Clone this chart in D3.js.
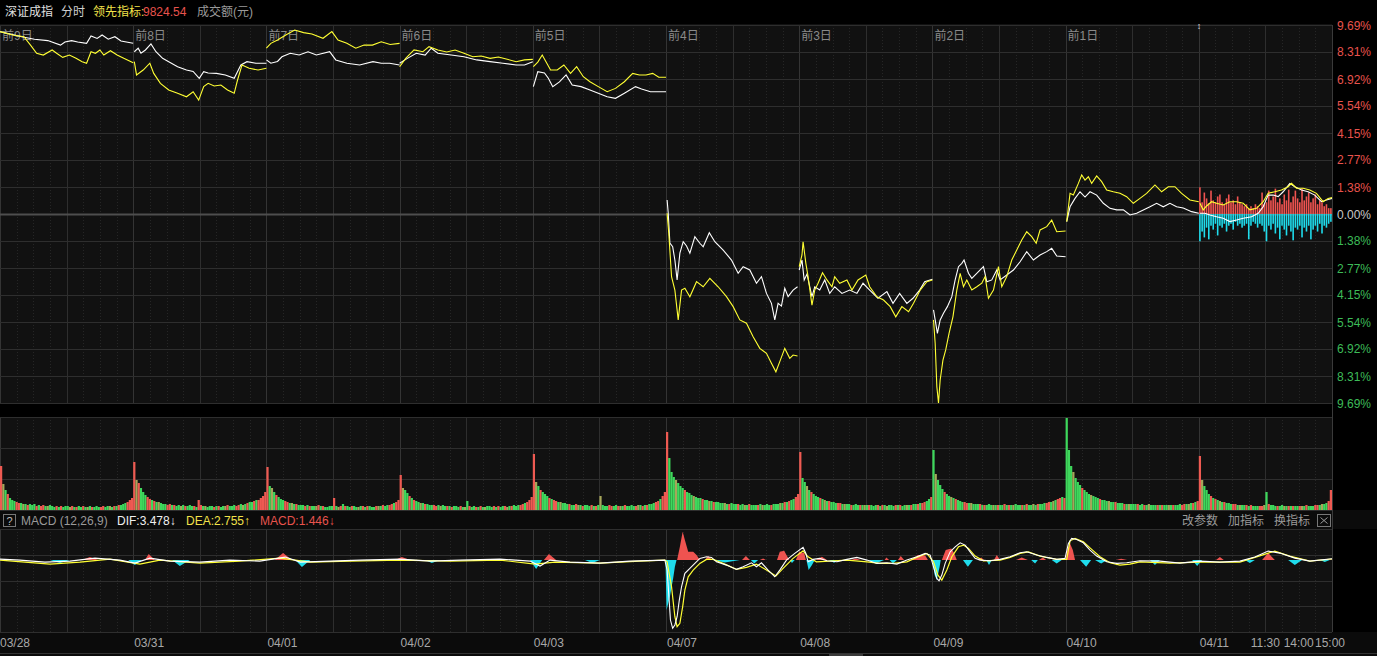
<!DOCTYPE html>
<html><head><meta charset="utf-8">
<script src="https://cdn.jsdelivr.net/npm/d3@7"></script>
<style>
html,body{margin:0;padding:0;background:#000;overflow:hidden;}
svg{display:block;}
text{font-family:"Liberation Sans",Arial,"Noto Sans CJK SC",sans-serif;}
</style></head><body>
<svg id="c" width="1377" height="656"></svg>
<script>
// ---------------- DATA ----------------
const dayLabels = ["03/28","03/31","04/01","04/02","04/03","04/07","04/08","04/09","04/10","04/11"];
const dayTags = ["前9日","前8日","前7日","前6日","前5日","前4日","前3日","前2日","前1日"];
const lastDayTimes = [["11:30",120],["14:00",180],["15:00",240]];
const pctTicks = [9.69,8.31,6.92,5.54,4.15,2.77,1.38,0,-1.38,-2.77,-4.15,-5.54,-6.92,-8.31,-9.69];

// 深证成指 (white), [minute of day, % change]
const indexLine = [
 [[0,9.35],[39,9.09],[62,8.96],[86,8.89],[109,8.66],[117,8.82],[129,8.89],[140,8.82],[156,8.75],[164,9.13],[175,9.0],[184,9.18],[195,8.96],[207,9.09],[218,8.87],[240,8.75]],
 [[2,8.32],[9,8.50],[14,8.24],[22,8.41],[32,8.72],[41,8.32],[53,7.98],[64,7.81],[80,7.55],[96,7.38],[108,7.31],[119,6.96],[127,7.30],[135,7.23],[150,7.21],[166,7.13],[182,6.96],[194,7.64],[205,7.81],[221,7.73],[240,7.73]],
 [[0,7.90],[8,7.73],[20,7.82],[28,8.06],[43,8.24],[59,8.15],[75,8.32],[90,8.15],[114,8.32],[125,7.90],[145,7.73],[168,7.64],[192,7.81],[207,7.73],[222,7.73],[240,7.64]],
 [[0,7.73],[14,7.98],[30,8.24],[46,8.15],[57,8.50],[69,8.24],[93,8.15],[116,8.06],[139,7.90],[163,7.81],[186,7.73],[210,7.64],[225,7.64],[240,7.81]],
 [[1,6.53],[9,7.30],[21,7.23],[28,6.96],[36,6.53],[48,6.77],[60,7.13],[71,6.61],[87,6.53],[103,6.36],[118,6.19],[134,6.01],[149,5.93],[165,6.19],[185,6.53],[196,6.41],[212,6.27],[240,6.27]],
 [[2,0.72],[4,0.05],[7,-1.49],[12,-1.68],[16,-2.36],[20,-3.38],[25,-2.01],[31,-1.42],[37,-1.64],[43,-2.01],[52,-1.16],[61,-1.50],[67,-1.68],[78,-0.96],[88,-1.42],[103,-1.85],[118,-2.36],[130,-3.04],[139,-2.70],[151,-2.87],[163,-3.55],[172,-3.21],[181,-4.07],[190,-4.58],[196,-5.43],[202,-4.58],[208,-4.72],[214,-3.81],[220,-4.24],[229,-3.90],[237,-3.73]],
 [[0,-2.87],[5,-2.36],[9,-3.38],[14,-3.08],[23,-4.24],[28,-3.73],[37,-3.90],[46,-3.38],[55,-4.07],[64,-3.73],[77,-4.07],[91,-3.90],[104,-4.07],[115,-3.55],[127,-3.90],[142,-4.32],[158,-3.98],[169,-4.58],[181,-4.07],[194,-4.58],[205,-4.32],[217,-3.90],[226,-3.47],[240,-3.35]],
 [[2,-4.92],[5,-5.43],[9,-6.12],[14,-5.43],[20,-5.09],[27,-4.75],[35,-4.24],[41,-3.38],[47,-2.70],[53,-2.53],[57,-2.36],[65,-3.04],[71,-3.30],[83,-2.96],[92,-2.70],[98,-3.47],[107,-3.38],[116,-2.87],[122,-3.38],[134,-3.13],[146,-2.87],[158,-2.45],[170,-1.93],[182,-2.36],[194,-2.10],[206,-1.93],[215,-1.76],[224,-2.15],[240,-2.19]],
 [[2,-0.39],[8,0.37],[17,0.80],[26,1.14],[35,0.87],[44,1.14],[56,0.97],[68,0.55],[80,0.29],[92,0.21],[104,0.21],[116,-0.05],[128,0.04],[140,0.21],[152,0.37],[164,0.55],[176,0.37],[188,0.55],[200,0.37],[212,0.31],[227,0.12],[240,0.04]],
 [[2,0.04],[11,0.04],[20,-0.05],[32,-0.14],[44,-0.22],[56,-0.39],[68,-0.31],[80,-0.22],[95,-0.14],[107,0.04],[116,0.37],[125,0.97],[134,0.97],[143,0.89],[152,1.14],[164,1.57],[173,1.40],[185,1.23],[197,1.14],[209,0.97],[221,0.63],[230,0.72],[240,0.80]]
];
// 领先指标 (yellow)
const leadLine = [
 [[0,9.35],[23,9.18],[43,9.09],[55,8.66],[66,8.24],[78,8.15],[94,8.41],[102,8.24],[113,8.03],[125,8.15],[137,7.98],[148,7.81],[156,7.73],[164,8.32],[172,8.24],[180,8.41],[187,8.15],[199,8.37],[211,8.15],[223,7.98],[240,7.76]],
 [[2,7.81],[6,7.13],[18,7.38],[30,7.73],[37,7.21],[49,6.70],[64,6.36],[80,6.19],[96,6.01],[108,6.27],[118,5.84],[127,6.53],[135,6.70],[146,6.56],[158,6.61],[170,6.36],[182,6.19],[188,6.87],[196,7.64],[209,7.47],[225,7.38],[240,7.47]],
 [[0,8.50],[8,8.75],[20,8.92],[35,9.18],[51,9.43],[67,9.30],[82,9.23],[102,9.01],[118,9.35],[129,8.92],[145,8.75],[161,8.50],[176,8.66],[191,8.66],[207,8.83],[223,8.69],[240,8.75]],
 [[0,7.55],[11,7.98],[26,8.41],[42,8.32],[53,8.58],[69,8.41],[85,8.31],[100,8.41],[116,8.24],[132,8.06],[147,8.10],[163,7.98],[178,8.05],[194,7.93],[210,7.81],[225,7.90],[240,7.93]],
 [[1,7.55],[9,7.79],[17,8.15],[24,7.79],[32,7.38],[44,7.38],[56,7.64],[68,7.21],[79,7.55],[91,7.04],[103,6.78],[118,6.53],[134,6.27],[149,6.44],[165,6.78],[180,7.21],[192,7.13],[204,7.13],[216,7.21],[227,7.01],[240,7.01]],
 [[2,0.04],[5,-0.99],[10,-3.21],[16,-3.90],[22,-5.43],[28,-3.90],[34,-3.81],[43,-4.24],[55,-3.47],[67,-3.73],[79,-3.30],[94,-3.73],[109,-4.24],[121,-4.75],[133,-5.43],[145,-5.60],[157,-6.29],[169,-6.89],[181,-7.14],[190,-7.65],[198,-8.09],[205,-7.57],[214,-6.89],[223,-7.40],[229,-7.23],[237,-7.28]],
 [[0,-2.70],[5,-2.10],[7,-1.42],[12,-2.53],[16,-3.21],[23,-4.67],[28,-3.90],[34,-3.55],[42,-3.01],[50,-3.38],[59,-3.73],[64,-3.21],[73,-3.55],[86,-3.38],[95,-3.90],[106,-3.38],[120,-3.13],[127,-3.73],[140,-4.24],[152,-4.41],[164,-4.75],[174,-5.27],[185,-4.75],[197,-5.01],[206,-4.58],[218,-3.90],[230,-3.47],[240,-3.38]],
 [[2,-5.43],[5,-6.63],[8,-8.85],[11,-9.69],[14,-8.51],[19,-7.49],[24,-6.97],[30,-6.12],[37,-5.27],[44,-3.90],[50,-3.04],[56,-3.73],[62,-3.38],[71,-3.90],[80,-3.73],[89,-3.55],[95,-3.21],[101,-4.32],[110,-3.90],[119,-2.70],[125,-3.73],[134,-3.21],[143,-2.36],[152,-1.85],[161,-1.33],[170,-0.91],[179,-1.16],[187,-1.50],[194,-0.82],[206,-0.65],[215,-0.31],[224,-0.91],[240,-0.87]],
 [[2,-0.39],[8,1.06],[14,0.97],[23,1.57],[29,2.00],[35,1.74],[41,1.91],[47,1.57],[56,1.95],[65,1.66],[74,1.23],[86,1.14],[98,1.06],[110,0.89],[122,0.55],[134,0.80],[146,1.06],[161,1.49],[173,1.14],[185,1.40],[197,1.40],[209,1.06],[224,0.72],[240,0.63]],
 [[2,0.55],[8,0.21],[14,0.41],[23,0.63],[32,0.55],[44,0.46],[56,0.63],[68,0.63],[80,0.55],[92,0.21],[104,0.29],[116,0.63],[125,1.06],[137,1.14],[149,1.23],[161,1.40],[167,1.57],[176,1.32],[188,1.32],[200,1.23],[212,1.06],[224,0.63],[233,0.80],[240,0.84]]
];
// current day strength bars (every 4 minutes)
const buyBars = [1.37,0.6,1.1,0.8,0.55,1.2,0.7,0.6,0.9,1.0,0.6,0.5,0.8,1.0,0.6,0.7,0.5,0.9,0.6,0.5,0.4,0.5,0.3,0.4,0.3,0.5,0.4,0.3,1.1,0.5,0.6,1.2,0.7,0.9,1.3,0.6,0.8,0.5,1.0,0.7,1.25,0.6,0.9,1.2,0.8,0.6,1.3,0.7,0.9,1.1,0.6,0.8,1.0,0.5,0.7,0.6,0.4,0.5,0.3,0.3];
const sellBars = [-1.4,-0.9,-1.2,-0.7,-1.3,-0.6,-0.8,-0.5,-1.1,-0.6,-0.7,-0.5,-0.9,-0.6,-0.5,-0.8,-0.4,-0.6,-0.5,-0.7,-0.6,-0.5,-1.3,-0.6,-0.4,-0.5,-0.7,-0.5,-0.6,-0.9,-1.4,-0.6,-0.8,-0.5,-1.0,-0.7,-1.3,-0.6,-0.8,-1.1,-0.6,-0.9,-1.35,-0.7,-0.8,-0.6,-1.2,-0.7,-0.9,-0.6,-1.3,-0.8,-0.6,-0.9,-0.5,-1.0,-0.6,-0.7,-0.5,-0.4];

// 成交额, 60 bars per day (4 minutes each)
const volume = [
 [44,26,20,16,12,10,9,8,7,7,6,6,5,6,5,6,4,5,4,5,4,4,5,4,3,4,3,4,3,4,4,3,4,3,3,4,3,4,3,3,4,3,3,4,3,3,4,3,4,4,3,4,4,5,5,6,7,8,10,12],
 [48,30,27,22,18,15,13,11,10,9,8,8,7,6,6,5,6,5,5,4,5,4,5,4,4,5,4,4,3,10,5,4,4,3,4,4,3,4,4,3,4,4,5,4,4,5,4,5,6,5,6,7,8,8,9,10,10,12,14,18],
 [43,24,22,18,15,13,11,10,9,8,7,7,6,6,5,5,5,4,5,4,4,4,4,5,4,4,3,3,4,4,12,4,3,4,6,4,4,3,4,4,3,3,4,4,3,4,4,3,3,4,4,4,5,4,5,5,6,7,8,10],
 [35,22,20,17,14,12,10,9,8,7,7,6,6,5,5,5,4,5,4,5,4,4,4,3,4,4,3,4,3,3,9,4,3,4,3,3,4,3,3,4,4,3,4,3,4,3,4,4,3,4,4,5,4,5,5,6,7,8,10,13],
 [56,28,24,20,18,16,14,12,11,10,9,8,8,7,7,6,6,5,5,6,5,5,4,5,5,4,5,4,4,5,14,5,4,4,5,4,4,5,4,4,4,5,4,4,5,4,4,5,5,4,5,5,6,6,7,8,9,11,14,18],
 [78,52,38,33,30,27,24,22,20,18,17,15,14,13,12,12,11,10,10,9,9,8,8,8,7,7,7,6,6,7,6,6,6,5,6,5,5,6,5,5,5,5,6,5,5,6,5,5,6,6,6,7,7,8,8,9,10,11,13,16],
 [58,32,28,24,20,18,16,14,13,12,11,10,9,9,8,8,7,7,7,6,6,6,6,5,5,6,5,5,5,5,5,5,5,4,5,5,4,5,5,4,5,5,4,5,5,5,4,5,5,5,5,6,6,6,7,7,8,9,11,13],
 [60,36,30,25,21,18,16,14,13,12,11,10,9,8,8,7,7,7,6,6,6,6,5,5,5,6,5,5,5,5,5,5,6,5,5,5,5,6,5,5,5,5,6,5,5,6,5,6,6,6,7,7,8,8,9,10,11,12,13,12],
 [92,60,44,38,32,28,25,22,20,18,16,15,14,13,12,11,10,10,9,9,8,8,8,7,7,7,6,6,6,6,6,6,6,5,6,5,5,6,5,5,5,5,5,5,5,5,5,5,5,5,5,6,5,6,6,6,7,7,8,9],
 [54,30,24,20,16,14,12,11,10,9,8,8,7,7,6,6,6,5,5,5,5,5,4,5,4,4,4,4,4,5,18,6,5,5,4,4,4,5,4,4,4,4,4,4,4,4,4,4,5,4,4,4,5,5,5,6,6,7,9,20]
];
const volColor = [
 "rogrgggrrgogrgggrgrrgogggrgrgggorgrggrgogrgggrrggogrgrgggrrr",
 "rorgggrrgrgogggrrgrggogrgggrgrrgogggrgrggorgggrrgogrggrgrrrr",
 "rgogrgggrrgogrgggrgrggorgrggggrgorgrggrggogrgrgggrogrggrrgrr",
 "roggrgrggogrgggrrgoggrgrgggrgogrggrgrgogggrgrggrogrgggrrgrrr",
 "rogrgggrgrrgogggrggrogrgggrgrgogggrrggrogrggggrogrgrgggrrgrr",
 "rgggogggrgggogggrggogrggggogrgggrggogrgggrgogggrgggogrgrggrr",
 "rggogrgggrgogrgggrrgoggrgggrgogrgggrgrgogggrgrggogrggrgrrggr",
 "gogggrggogrgggrrgogggrgrgggogrggrgrgogggrgrggogrgggrrgogrrgr",
 "gggogggrgggogggrgggoggrgggrgogggrggrgogggrgrggogrgggrrgogrgr",
 "rogggrgrgogrgggrrgoggrgrgggrrogrgggrggogrgrggrogrgggrrgoggrr"
];

// MACD (12,26,9): [global minute, value]
const difLine = [[0,2.6],[36,0],[81,-5.1],[126,-2.6],[171,5.1],[216,0],[243,-7.7],[270,5.1],[306,-2.6],[360,-5.1],[414,0],[468,-2.6],[514,7.7],[541,-5.1],[595,-2.6],[649,0],[721,2.6],[775,-2.6],[829,0],[901,2.6],[955,-2.6],[973,-15.4],[991,0],[1027,-5.1],[1081,-7.7],[1135,-2.6],[1198,0],[1202,-25.7],[1206,-110.5],[1208,-154.2],[1212,-175.5],[1216,-167],[1220,-145.7],[1224,-102.8],[1228,-68.6],[1234,-34.2],[1243,-21.3],[1252,-8.5],[1261,4.4],[1273,8.5],[1282,6.9],[1291,-4.4],[1309,-12.9],[1327,-23.9],[1339,-17.2],[1354,-6.9],[1363,-17.2],[1372,-6.9],[1384,-25.7],[1396,-42.9],[1405,-25.7],[1417,0],[1432,17.2],[1447,32.6],[1452,17.2],[1456,-4.4],[1465,1.8],[1477,4.4],[1490,-1.8],[1508,-4.4],[1526,1.8],[1544,6.9],[1562,0],[1580,-8.5],[1598,-6.9],[1616,-10.3],[1634,0],[1652,8.5],[1667,17.2],[1676,12.9],[1682,-17.2],[1688,-47],[1692,-53.2],[1697,-38.6],[1703,-8.5],[1712,21.3],[1721,34.2],[1730,44.5],[1739,38.6],[1748,21.3],[1757,4.4],[1766,0],[1784,-1.8],[1802,1.8],[1820,8.5],[1838,18.8],[1850,21.3],[1868,12.9],[1886,6.9],[1904,1.8],[1919,4.4],[1925,42.9],[1931,55.8],[1940,53.2],[1952,44.5],[1964,25.7],[1976,10.3],[1994,-4.4],[2012,-8.5],[2030,-6.9],[2054,-1.8],[2090,-2.6],[2126,-7.7],[2162,-2.6],[2198,-5.1],[2234,-2.6],[2261,7.7],[2285,23.1],[2306,18],[2333,5.1],[2360,-2.6],[2400,3.478]];
const deaLine = [[0,0],[45,-5.1],[90,-10.3],[144,-5.1],[198,2.6],[252,-10.3],[288,0],[360,-7.7],[432,-2.6],[505,5.1],[559,-5.1],[631,-2.6],[721,0],[811,-2.6],[901,0],[964,-10.3],[1000,-5.1],[1081,-7.7],[1153,-2.6],[1198,0],[1202,-4.4],[1210,-68.6],[1216,-145.7],[1220,-171.4],[1225,-162.7],[1230,-120],[1234,-77.1],[1240,-42.9],[1249,-25.7],[1261,-8.5],[1273,1.8],[1285,1.8],[1303,-8.5],[1327,-23.9],[1345,-18.8],[1363,-10.3],[1381,-25.7],[1398,-41.1],[1411,-21.3],[1429,4.4],[1447,23.9],[1456,8.5],[1471,-4.4],[1526,0],[1562,-4.4],[1586,-8.5],[1610,-8.5],[1634,-4.4],[1652,6.9],[1670,17.2],[1682,-4.4],[1690,-38.6],[1697,-51.4],[1706,-25.7],[1715,8.5],[1727,34.2],[1736,38.6],[1745,30.1],[1757,10.3],[1772,-1.8],[1802,0],[1820,6.9],[1838,17.2],[1853,21.3],[1874,10.3],[1904,1.8],[1922,1.8],[1928,49.6],[1937,55.8],[1952,47],[1967,27.5],[1982,8.5],[2000,-6.9],[2018,-12.9],[2036,-10.3],[2054,-4.4],[2108,-7.7],[2162,-5.1],[2234,-5.1],[2274,12.9],[2297,23.1],[2324,10.3],[2360,-2.6],[2400,2.755]];
const macdBars = [[90,0],[108,-7.7],[126,0],[148,0],[162,7.7],[177,0],[231,0],[243,-12.9],[256,0],[261,0],[268,15.4],[279,0],[310,0],[324,-15.4],[342,0],[495,0],[510,18],[526,0],[532,0],[544,-18],[559,0],[712,0],[724,7.7],[739,0],[766,0],[778,-7.7],[793,0],[955,0],[966,-23.1],[977,0],[980,0],[989,15.4],[1002,0],[1054,0],[1067,-7.7],[1081,0],
 [1199,0],[1201,-128.5],[1207,-94.3],[1213,-46.3],[1216,-17.2],[1219,0],[1220,0],[1225,34.2],[1230,72.7],[1234,51.4],[1240,21.3],[1249,21.3],[1255,12.9],[1261,0],
 [1270,0],[1276,10.3],[1283,0],[1286,0],[1306,-6.4],[1333,0],[1337,0],[1344,10.3],[1351,0],[1353,0],[1359,-8.5],[1366,0],[1369,0],[1375,4.4],[1380,0],
 [1400,0],[1405,21.3],[1413,23.9],[1418,10.3],[1422,0],[1423,0],[1427,-7.7],[1432,0],[1434,0],[1440,21.3],[1449,18],[1452,0],[1453,0],[1457,-25.7],[1463,-12.9],[1468,0],[1470,0],[1481,8.5],[1490,0],[1494,0],[1503,-6.9],[1510,0],[1533,0],[1542,4.4],[1551,0],[1564,0],[1578,-8.5],[1593,0],[1594,0],[1597,6.9],[1602,0],[1603,0],[1609,-8.5],[1616,0],[1618,0],[1623,10.3],[1629,0],[1641,0],[1654,12.9],[1667,11.6],[1672,0],
 [1680,0],[1684,-38.6],[1688,-51.4],[1693,-17.2],[1695,0],[1697,0],[1704,25.7],[1714,30.1],[1719,18],[1724,0],[1735,0],[1744,-17.2],[1753,0],[1762,0],[1768,6.9],[1773,0],[1777,0],[1782,-12.9],[1787,0],[1791,0],[1796,12.9],[1802,0],[1831,0],[1841,6.9],[1852,0],[1858,0],[1865,-8.5],[1870,0],[1872,0],[1879,6.9],[1885,0],[1895,0],[1904,-8.5],[1913,0],
 [1920,0],[1923,25.7],[1928,42.9],[1933,25.7],[1937,0],[1946,0],[1957,-17.2],[1966,0],[1973,0],[1984,-8.5],[1995,0],[2011,0],[2020,3.3],[2031,0],[2072,0],[2081,-12.9],[2090,0],[2148,0],[2157,-15.4],[2166,0],[2191,0],[2198,7.7],[2205,0],[2243,0],[2252,-7.7],[2261,0],[2274,0],[2285,18],[2297,0],[2321,0],[2333,-12.9],[2346,0],[2378,0],[2387,-5.1],[2396,0],[2400,1.446]];

// ---------------- DRAW ----------------
const svg = d3.select("#c");
const PW = 1332;
const x = d3.scaleLinear().domain([0, 2400]).range([0, PW]);
const main = {top:25, bottom:403};
const vol = {top:417, bottom:510};
const mac = {top:529, bottom:632};
const y = d3.scaleLinear().domain([-9.69, 9.69]).range([main.bottom, main.top]).clamp(true);
const vy = d3.scaleLinear().domain([0, 93]).range([vol.bottom, vol.top]);
const my = d3.scaleLinear().domain([-185, 80]).range([mac.bottom, mac.top]).clamp(true);

const RED = "#ef5350", GREEN = "#3fc45c", CYAN = "#1fdcec", YEL = "#ffff33";

svg.append("rect").attr("width",1377).attr("height",656).attr("fill","#000");
// panel backgrounds
[[main.top-1, main.bottom+1],[vol.top, vol.bottom],[mac.top, mac.bottom]].forEach(([a,b])=>{
  svg.append("rect").attr("x",0).attr("y",a).attr("width",PW).attr("height",b-a).attr("fill","#111");
});
svg.append("rect").attr("x",0).attr("y",vol.bottom).attr("width",1377).attr("height",mac.top-vol.bottom).attr("fill","#0b0b0b");
svg.append("rect").attr("x",0).attr("y",mac.bottom).attr("width",1377).attr("height",656-mac.bottom).attr("fill","#0b0b0b");

// vertical grid
const gridG = svg.append("g");
function vgrid(p){
  for(let t=0;t<=2400;t+=30){
    const xx = Math.round(x(t))+0.5;
    const solid = t%120===0;
    gridG.append("line").attr("x1",xx).attr("x2",xx).attr("y1",p.top).attr("y2",p.bottom)
      .attr("stroke", solid ? (t%240===0 ? "#343434" : "#2e2e2e") : "#262626")
      .attr("stroke-width",1)
      .attr("stroke-dasharray", solid ? null : "1,2");
  }
}
vgrid(main); vgrid(vol); vgrid(mac);
// horizontal grid
pctTicks.forEach(v=>{
  const yy = Math.round(y(v))+0.5;
  gridG.append("line").attr("x1",0).attr("x2",PW).attr("y1",yy).attr("y2",yy)
    .attr("stroke", v===0 ? "#4e4e4e" : "#2e2e2e").attr("stroke-width", v===0 ? 2 : 1);
});
[0,1,2,3].forEach(i=>{
  const yy = Math.round(vol.top + i*(vol.bottom-vol.top)/3)+0.5;
  gridG.append("line").attr("x1",0).attr("x2",PW).attr("y1",yy).attr("y2",yy).attr("stroke","#2e2e2e");
});
[0,1,2,3,4].forEach(i=>{
  const yy = Math.round(mac.top + i*(mac.bottom-mac.top)/4)+0.5;
  gridG.append("line").attr("x1",0).attr("x2",PW).attr("y1",yy).attr("y2",yy).attr("stroke","#2e2e2e");
});

// day tags
dayTags.forEach((t,i)=>{
  svg.append("text").attr("x", x(i*240)+2).attr("y", 40).attr("font-size",12).attr("fill","#8a8a8a").text(t);
});

// buy / sell bars on current day
const d9 = 9*240;
buyBars.forEach((v,i)=>{
  const t = d9 + i*4 + 2;
  svg.append("rect").attr("x", x(t)-0.8).attr("width",1.6).attr("y", y(v)).attr("height", y(0)-y(v)).attr("fill", RED);
});
sellBars.forEach((v,i)=>{
  const t = d9 + i*4 + 2;
  svg.append("rect").attr("x", x(t)-0.8).attr("width",1.6).attr("y", y(0)).attr("height", y(v)-y(0)).attr("fill", CYAN);
});

// price lines
const line = di => d3.line().x(d=>x(di*240+d[0])).y(d=>y(d[1]));
indexLine.forEach((arr,di)=>{
  svg.append("path").attr("d", line(di)(arr)).attr("fill","none").attr("stroke","#ffffff").attr("stroke-width",1.1);
});
leadLine.forEach((arr,di)=>{
  svg.append("path").attr("d", line(di)(arr)).attr("fill","none").attr("stroke",YEL).attr("stroke-width",1.1);
});

// y labels
pctTicks.forEach(v=>{
  svg.append("text").attr("x",1337).attr("y", y(v)+4.5).attr("font-size",12)
    .attr("fill", v>0 ? "#e8534d" : (v<0 ? "#3dbb58" : "#c8c8c8"))
    .text(Math.abs(v).toFixed(2)+"%");
});

// volume
const vcol = {r:"#ee5a52", g:"#3ed85c", o:"#a6a65a"};
const bw = x(240)/60;
volume.forEach((arr,di)=>{
  arr.forEach((v,i)=>{
    const t = di*240 + i*4;
    const c = vcol[volColor[di][i]] || vcol.g;
    svg.append("rect").attr("x", x(t)).attr("width", bw).attr("y", vy(v)).attr("height", vy(0)-vy(v)).attr("fill", c);
  });
});

// MACD
const areaPos = d3.area().x(d=>x(d[0])).y0(my(0)).y1(d=>my(Math.max(0,d[1])));
const areaNeg = d3.area().x(d=>x(d[0])).y0(my(0)).y1(d=>my(Math.min(0,d[1])));
svg.append("path").attr("d", areaPos(macdBars)).attr("fill", RED);
svg.append("path").attr("d", areaNeg(macdBars)).attr("fill", CYAN);
const mline = d3.line().x(d=>x(d[0])).y(d=>my(d[1]));
svg.append("path").attr("d", mline(deaLine)).attr("fill","none").attr("stroke",YEL).attr("stroke-width",1.2);
svg.append("path").attr("d", mline(difLine)).attr("fill","none").attr("stroke","#ffffff").attr("stroke-width",1.1);

// borders
svg.append("line").attr("x1",PW+0.5).attr("x2",PW+0.5).attr("y1",main.top).attr("y2",mac.bottom).attr("stroke","#3a3a3a");
svg.append("line").attr("x1",0).attr("x2",1377).attr("y1",653.5).attr("y2",653.5).attr("stroke","#333");
svg.append("rect").attr("x",829).attr("y",654).attr("width",34).attr("height",2).attr("fill","#3a3a3a");

// header
const hdr = svg.append("text").attr("y",16).attr("font-size",12);
svg.append("text").attr("x",5).attr("y",16).attr("font-size",12).attr("fill","#e0e0e0").text("深证成指");
svg.append("text").attr("x",61).attr("y",16).attr("font-size",12).attr("fill","#cfcfcf").text("分时");
svg.append("text").attr("x",93).attr("y",16).attr("font-size",12).attr("fill","#f2e24a").text("领先指标:");
svg.append("text").attr("x",143).attr("y",16).attr("font-size",12).attr("fill","#e8534d").text("9824.54");
svg.append("text").attr("x",197).attr("y",16).attr("font-size",12).attr("fill","#9a9a9a").text("成交额(元)");
svg.append("text").attr("x",1199).attr("y",29).attr("font-size",9).attr("fill","#ddd").attr("text-anchor","middle").text("↕");

// MACD header
svg.append("rect").attr("x",3.5).attr("y",514.5).attr("width",12).attr("height",12).attr("fill","none").attr("stroke","#777");
svg.append("text").attr("x",9.5).attr("y",525).attr("font-size",11).attr("fill","#bbb").attr("text-anchor","middle").text("?");
svg.append("text").attr("x",21).attr("y",525).attr("font-size",12).attr("fill","#9a9a9a").text("MACD (12,26,9)");
svg.append("text").attr("x",117).attr("y",525).attr("font-size",12).attr("fill","#f0f0f0").text("DIF:3.478↓");
svg.append("text").attr("x",186).attr("y",525).attr("font-size",12).attr("fill","#f2e24a").text("DEA:2.755↑");
svg.append("text").attr("x",260).attr("y",525).attr("font-size",12).attr("fill","#e8534d").text("MACD:1.446↓");
[["改参数",1182],["加指标",1228],["换指标",1274]].forEach(([t,xx])=>{
  svg.append("text").attr("x",xx).attr("y",525).attr("font-size",12).attr("fill","#9a9a9a").text(t);
});
svg.append("rect").attr("x",1317.5).attr("y",514.5).attr("width",13).attr("height",12).attr("fill","none").attr("stroke","#777");
svg.append("path").attr("d","M1320.5,517.5L1327.5,523.5M1327.5,517.5L1320.5,523.5").attr("stroke","#999").attr("stroke-width",1);

// x axis labels
dayLabels.forEach((t,i)=>{
  svg.append("text").attr("x", i===0 ? 0 : x(i*240)+1).attr("y",647).attr("font-size",12).attr("fill","#a8a8a8").text(t);
});
lastDayTimes.forEach(([t,m])=>{
  svg.append("text").attr("x", x(d9+m)).attr("y",647).attr("font-size",12).attr("fill","#a8a8a8")
    .attr("text-anchor", m===240 ? "start" : "middle").attr("dx", m===240 ? -17 : 0).text(t);
});
</script>
</body></html>
